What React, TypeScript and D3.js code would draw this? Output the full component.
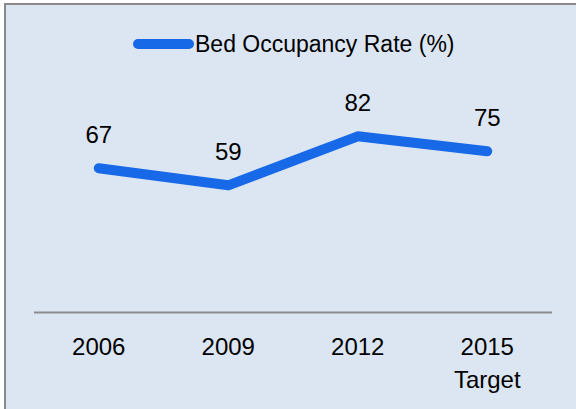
import { useEffect, useRef } from "react"
import * as d3 from "d3"

const categories = ["2006", "2009", "2012", "2015"]
const subLabels = ["", "", "", "Target"]
const occupancy = [67, 59, 82, 75]
const seriesName = "Bed Occupancy Rate (%)"

const W = 576
const H = 409

export default function App() {
  const svgRef = useRef<SVGSVGElement>(null)

  useEffect(() => {
    if (!svgRef.current) return
    const svg = d3.select(svgRef.current)
    svg.selectAll("*").remove()

    const font = "'Liberation Sans', Arial, sans-serif"
    const blue = "#1769e8"

    // background + frame (right/bottom edges fall outside the crop)
    svg.append("rect")
      .attr("x", 5).attr("y", 4)
      .attr("width", W + 20).attr("height", H + 20)
      .attr("fill", "#dce6f2")
      .attr("stroke", "#8a8a8a")
      .attr("stroke-width", 2)

    const x = d3.scaleBand<string>()
      .domain(categories)
      .range([34, 552])

    const y = d3.scaleLinear()
      .domain([0, 100])
      .range([311, 98])

    // category axis
    svg.append("line")
      .attr("x1", x.range()[0]).attr("x2", x.range()[1])
      .attr("y1", 312.5).attr("y2", 312.5)
      .attr("stroke", "#8c8c8c")
      .attr("stroke-width", 2)

    const cx = (c: string) => (x(c) ?? 0) + x.bandwidth() / 2

    const ticks = svg.append("g")
      .style("font-family", font)
      .style("font-size", "24px")
      .attr("fill", "#000")
    categories.forEach((c, i) => {
      ticks.append("text")
        .attr("x", cx(c)).attr("y", 355)
        .attr("text-anchor", "middle")
        .text(c)
      if (subLabels[i]) {
        ticks.append("text")
          .attr("x", cx(c)).attr("y", 388)
          .attr("text-anchor", "middle")
          .text(subLabels[i])
      }
    })

    const pts = categories.map((c, i) => ({ c, v: occupancy[i] }))

    const line = d3.line<{ c: string; v: number }>()
      .x(d => cx(d.c))
      .y(d => y(d.v))

    svg.append("path")
      .datum(pts)
      .attr("fill", "none")
      .attr("stroke", blue)
      .attr("stroke-width", 10)
      .attr("stroke-linecap", "round")
      .attr("stroke-linejoin", "round")
      .attr("d", line)

    // data labels
    svg.append("g")
      .selectAll("text")
      .data(pts)
      .enter()
      .append("text")
      .attr("x", d => cx(d.c))
      .attr("y", d => y(d.v) - 25)
      .attr("text-anchor", "middle")
      .style("font-family", font)
      .style("font-size", "24px")
      .attr("fill", "#000")
      .text(d => String(d.v))

    // legend
    const legend = svg.append("g")
    legend.append("line")
      .attr("x1", 138).attr("x2", 189)
      .attr("y1", 44).attr("y2", 44)
      .attr("stroke", blue)
      .attr("stroke-width", 10)
      .attr("stroke-linecap", "round")
    legend.append("text")
      .attr("x", 195).attr("y", 52)
      .style("font-family", font)
      .style("font-size", "23px")
      .attr("fill", "#000")
      .text(seriesName)
  }, [])

  return (
    <svg
      ref={svgRef}
      width={W}
      height={H}
      style={{ position: "absolute", left: 0, top: 0, display: "block" }}
    />
  )
}
